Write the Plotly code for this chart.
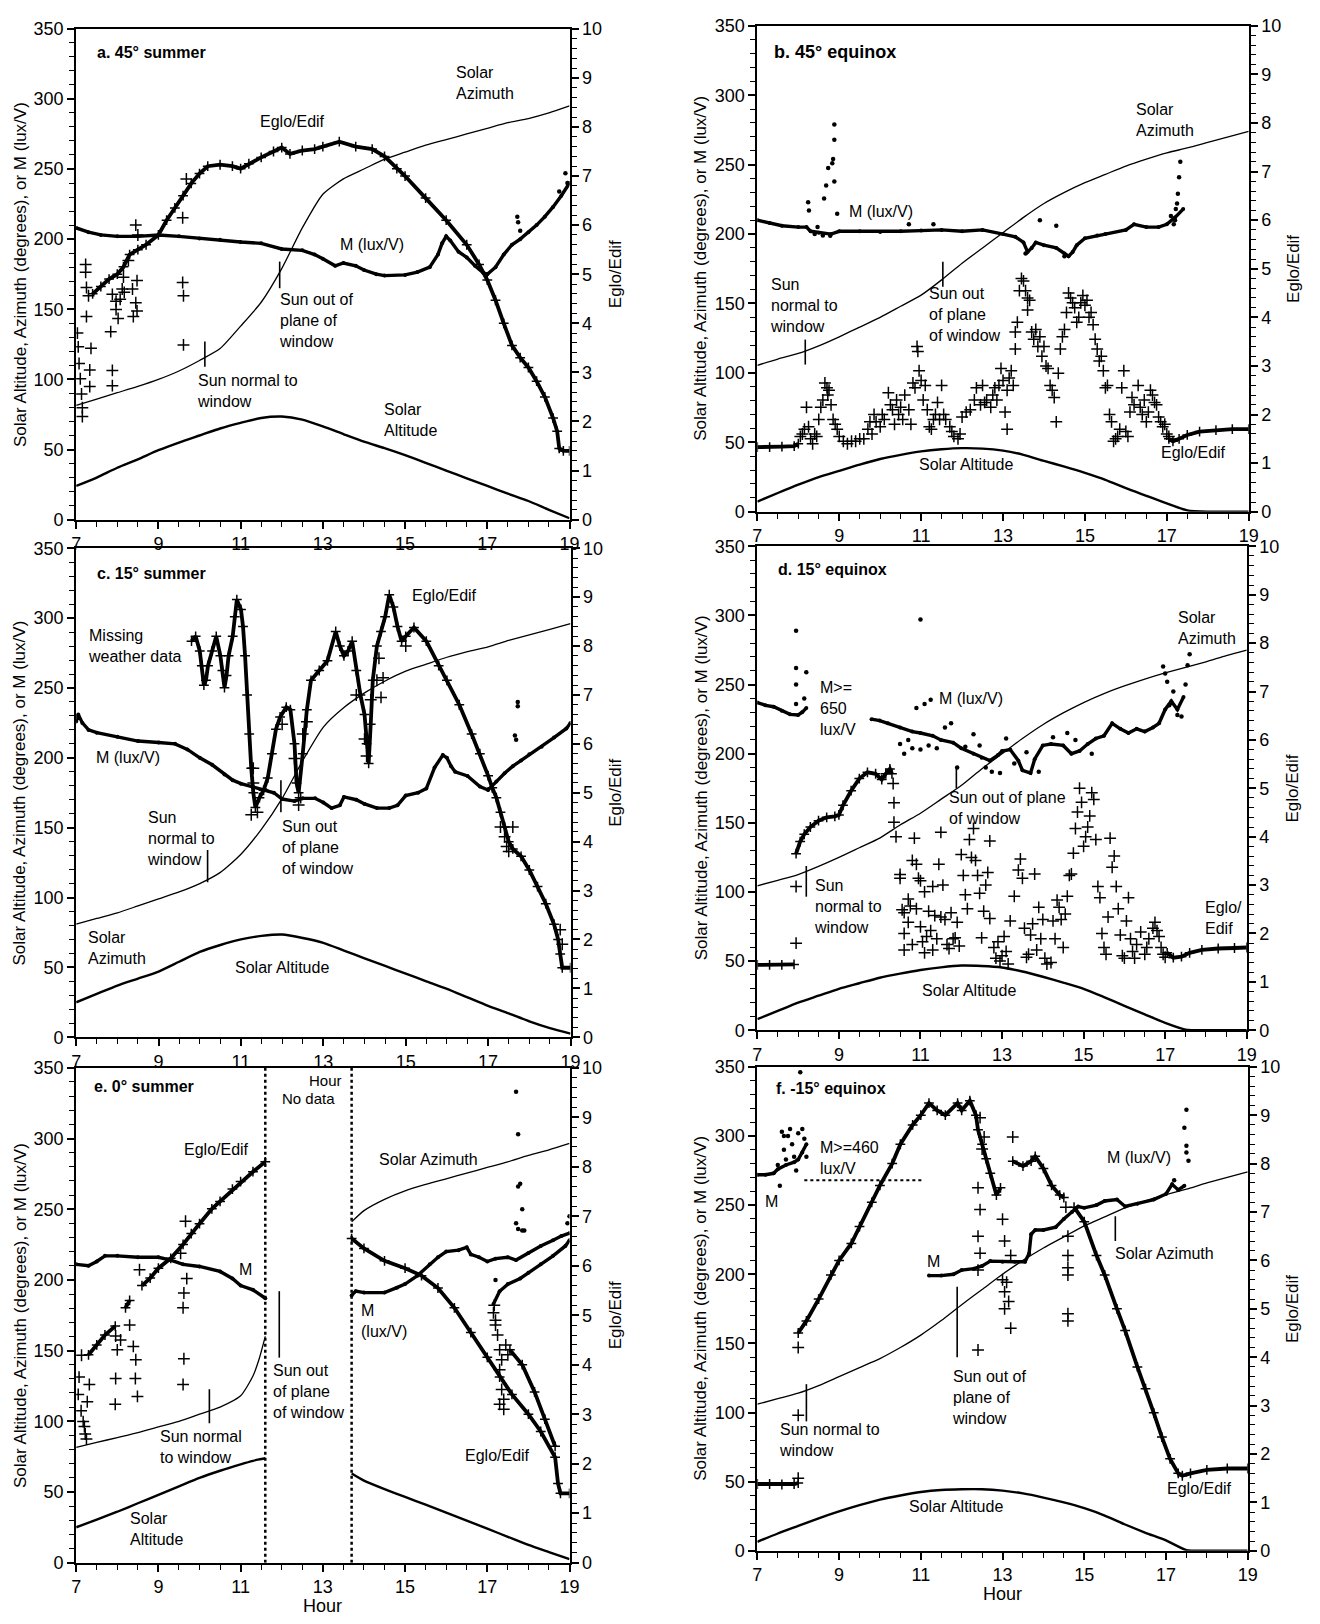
import plotly.graph_objects as go

# ---------------- DATA ----------------
SUN_HOURS = [7.0, 7.5, 8.0, 8.5, 9.0, 9.5, 10.0, 10.5, 11.0, 11.5, 12.0, 12.5, 13.0,
             13.5, 14.0, 14.5, 15.0, 15.5, 16.0, 16.5, 17.0, 17.5, 18.0, 18.5, 19.0]
X_TICKS = [7, 9, 11, 13, 15, 17, 19]

# ---- panel a: 45 deg summer ----
a_azimuth = [81.5, 86, 90.5, 95, 100, 106, 113.5, 122, 138, 155, 179, 208, 232,
             243, 250, 257, 262, 267, 271, 275, 279, 283, 286, 290, 295]
a_altitude = [24, 30, 37, 43, 49.5, 55, 60, 65, 69, 72.5, 73.5, 71.3, 66.5,
              61, 55.6, 51, 46, 40.5, 35, 29.5, 24, 18.5, 13.3, 7, 1]
a_m_line = [[(7.0, 208), (7.3, 205), (7.6, 203), (8.0, 202), (8.5, 202), (9.0, 203), (9.5, 202),
             (10.0, 200.5), (10.5, 199.5), (11.0, 198), (11.5, 197), (12.0, 193), (12.5, 192),
             (12.8, 189), (13.0, 186), (13.3, 181), (13.5, 183), (13.8, 181), (14.0, 178),
             (14.3, 175), (14.5, 174), (15.0, 174.5), (15.3, 176.5), (15.6, 180), (15.8, 189),
             (15.9, 197), (16.0, 202), (16.1, 199), (16.3, 191), (16.5, 187), (16.7, 181),
             (16.9, 176), (17.0, 175), (17.2, 180), (17.4, 189), (17.6, 196), (17.8, 200),
             (18.0, 205), (18.2, 210), (18.4, 216), (18.6, 223), (18.8, 231), (19.0, 240)]]
a_m_pts = [(17.73, 216), (17.75, 212), (17.8, 206), (18.9, 247), (18.95, 240), (18.75, 234)]
a_eglo_line = [[(7.4, 4.6), (7.6, 4.75), (7.8, 4.9), (8.0, 5.0), (8.15, 5.15), (8.3, 5.4), (8.5, 5.5),
                (8.7, 5.6), (9.0, 5.8), (9.2, 6.1), (9.4, 6.35), (9.6, 6.6), (9.8, 6.85), (10.0, 7.05),
                (10.2, 7.2), (10.5, 7.23), (10.8, 7.2), (11.0, 7.15), (11.2, 7.25), (11.5, 7.38),
                (11.8, 7.5), (12.0, 7.58), (12.2, 7.45), (12.5, 7.52), (12.8, 7.55), (13.0, 7.6),
                (13.4, 7.7), (13.8, 7.6), (14.2, 7.55), (14.5, 7.4), (14.8, 7.15), (15.0, 7.0),
                (15.5, 6.55), (16.0, 6.1), (16.5, 5.6), (16.8, 5.2), (17.0, 4.88), (17.2, 4.47),
                (17.4, 4.0), (17.6, 3.55), (17.8, 3.3), (18.0, 3.1), (18.2, 2.82), (18.4, 2.5),
                (18.6, 2.07), (18.7, 1.8), (18.75, 1.45), (18.85, 1.4), (19.0, 1.4)]]
a_eglo_pts = [(7.03, 3.8), (7.05, 3.52), (7.07, 3.18), (7.1, 2.87), (7.13, 2.56), (7.15, 2.28),
              (7.15, 2.1), (7.23, 5.2), (7.23, 5.04), (7.25, 4.73), (7.25, 4.14), (7.3, 4.56),
              (7.36, 3.49), (7.33, 3.05), (7.33, 2.71), (7.84, 3.83), (7.88, 4.59), (7.88, 3.04),
              (7.88, 2.73), (7.97, 4.45), (7.97, 4.28), (8.02, 4.1), (8.07, 4.49), (8.12, 4.7),
              (8.15, 4.94), (8.17, 4.63), (8.27, 5.28), (8.37, 4.7), (8.39, 4.14), (8.45, 4.42),
              (8.48, 4.25), (8.45, 6.0), (8.5, 5.8), (8.48, 4.87), (9.59, 4.83), (9.61, 4.56),
              (9.61, 3.56), (9.59, 6.15), (9.68, 6.94)]

# ---- panel b: 45 deg equinox ----
b_azimuth = [105.5, 110, 114, 119.5, 126, 133, 140, 148, 156, 167, 179, 190, 201,
             212, 222, 230, 237, 243, 249, 254, 258.5, 262, 266, 270, 274]
b_altitude = [7.3, 13.5, 19.5, 25, 29.5, 34, 38, 41, 43.5, 45, 45.8, 45.5, 44,
              41, 36.6, 32.5, 28, 23, 17, 11.5, 6, 1, 0, 0, 0]
b_m_line = [[(7.0, 210), (7.3, 208), (7.6, 206), (8.0, 205), (8.2, 205), (8.3, 202), (8.5, 201),
             (8.8, 200), (9.0, 202), (9.5, 202), (10.0, 201.5), (10.5, 202), (11.0, 202.5),
             (11.5, 203), (12.0, 202), (12.5, 203), (13.0, 200), (13.3, 198), (13.5, 194),
             (13.6, 187), (13.7, 190), (13.8, 194), (14.0, 192), (14.3, 190), (14.5, 186),
             (14.6, 184), (14.7, 187), (14.8, 192), (15.0, 197), (15.3, 199), (15.5, 200),
             (16.0, 203), (16.2, 207), (16.5, 205), (16.8, 205), (17.0, 207), (17.2, 212),
             (17.4, 218)]]
b_m_pts = [(8.24, 223), (8.26, 217), (8.63, 225.6), (8.68, 235), (8.73, 247.6), (8.83, 251),
           (8.85, 254), (8.88, 279), (8.88, 268), (8.88, 237.8), (8.95, 214.6), (8.47, 205),
           (8.6, 199), (8.78, 198.8), (8.4, 200), (17.17, 207), (17.22, 218), (17.25, 222),
           (17.27, 229), (17.3, 241), (17.33, 252), (17.2, 210), (17.1, 213), (13.9, 210),
           (14.3, 206), (10.7, 207), (11.3, 207), (13.55, 186), (14.5, 184)]
b_eglo_line = [[(7.0, 1.33), (7.3, 1.33), (7.6, 1.34), (7.9, 1.35), (8.0, 1.4)],
               [(17.05, 1.5), (17.15, 1.45), (17.3, 1.5), (17.5, 1.58), (17.8, 1.65),
                (18.2, 1.68), (18.6, 1.7), (19.0, 1.7)]]
b_eglo_pts = [(8.05, 1.55), (8.1, 1.6), (8.15, 1.7), (8.2, 2.15), (8.25, 1.75), (8.3, 1.5), (8.35, 1.4),
              (8.4, 1.6), (8.45, 1.55), (8.5, 1.9), (8.55, 2.15), (8.6, 2.3), (8.65, 2.65), (8.7, 2.55),
              (8.72, 2.4), (8.75, 2.5), (8.8, 2.2), (8.85, 1.9), (8.9, 1.8), (8.95, 1.7), (9.0, 1.55),
              (9.1, 1.45), (9.2, 1.4), (9.3, 1.45), (9.4, 1.45), (9.5, 1.5), (9.6, 1.5), (9.7, 1.7),
              (9.75, 1.85), (9.8, 1.6), (9.85, 2.0), (9.9, 1.85), (10.0, 1.75), (10.05, 2.0),
              (10.1, 1.9), (10.2, 2.45), (10.25, 2.2), (10.3, 2.1), (10.35, 1.8), (10.4, 2.3),
              (10.45, 2.0), (10.5, 2.15), (10.55, 1.9), (10.6, 2.4), (10.7, 2.1), (10.75, 1.8),
              (10.8, 2.65), (10.85, 2.55), (10.9, 3.4), (10.92, 3.3), (10.95, 2.9), (11.0, 2.7),
              (11.05, 2.3), (11.1, 2.6), (11.15, 2.1), (11.2, 1.75), (11.25, 1.7), (11.3, 1.9),
              (11.35, 2.0), (11.4, 2.25), (11.45, 1.9), (11.5, 2.6), (11.55, 2.0), (11.6, 1.9),
              (11.7, 1.75), (11.75, 1.65), (11.8, 1.55), (11.9, 1.5), (11.95, 1.6), (12.0, 1.95),
              (12.1, 2.05), (12.2, 2.1), (12.3, 2.3), (12.35, 2.55), (12.45, 2.2), (12.5, 2.6),
              (12.55, 2.25), (12.6, 2.3), (12.7, 2.15), (12.75, 2.4), (12.8, 2.55), (12.85, 2.3),
              (12.9, 2.6), (12.95, 2.95), (13.0, 2.7), (13.05, 2.05), (13.1, 1.7), (13.1, 2.5),
              (13.15, 2.75), (13.2, 2.9), (13.25, 2.6), (13.3, 3.35), (13.3, 3.7), (13.35, 3.9),
              (13.4, 4.55), (13.45, 4.8), (13.5, 4.75), (13.55, 4.55), (13.6, 4.4), (13.6, 4.15),
              (13.65, 4.35), (13.7, 3.7), (13.75, 3.55), (13.8, 3.75), (13.85, 3.4), (13.9, 3.6),
              (13.95, 3.2), (14.0, 3.4), (14.05, 3.0), (14.1, 2.95), (14.15, 2.6), (14.2, 2.5),
              (14.25, 2.35), (14.3, 1.85), (14.35, 2.85), (14.4, 3.35), (14.45, 3.6), (14.5, 3.75),
              (14.55, 4.1), (14.6, 4.5), (14.65, 4.4), (14.7, 4.3), (14.75, 4.2), (14.8, 3.9),
              (14.85, 4.0), (14.9, 4.3), (14.95, 4.45), (15.0, 4.25), (15.05, 4.35), (15.1, 4.0),
              (15.15, 4.1), (15.2, 3.85), (15.25, 3.55), (15.3, 3.35), (15.35, 3.1), (15.4, 3.2),
              (15.45, 2.9), (15.5, 2.55), (15.55, 2.6), (15.6, 2.0), (15.65, 1.85), (15.7, 1.45),
              (15.75, 1.5), (15.8, 1.55), (15.85, 1.7), (15.9, 2.55), (15.95, 2.9), (16.0, 1.65),
              (16.05, 1.55), (16.1, 2.05), (16.15, 2.35), (16.2, 2.2), (16.3, 2.6), (16.35, 2.15),
              (16.4, 2.0), (16.45, 2.3), (16.5, 1.85), (16.55, 2.05), (16.6, 2.5), (16.65, 2.4),
              (16.7, 2.25), (16.75, 2.2), (16.8, 1.95), (16.85, 1.85), (16.9, 1.75), (16.95, 1.8),
              (17.0, 1.6), (17.05, 1.55)]

# ---- panel c: 15 deg summer ----
c_azimuth = [81, 85, 89, 94, 99, 104, 110, 118, 131, 149, 171, 198, 222,
             236, 246.5, 255, 262, 267, 272, 276, 279.5, 284, 288, 292, 296]
c_altitude = [25, 31, 37, 42, 47, 54, 61, 66, 70, 72.5, 73.5, 71, 67.5,
              62, 56.5, 51, 45.5, 40, 34.6, 28.5, 22.4, 17, 11.4, 6.5, 2.5]
c_m_line = [[(7.0, 226), (7.05, 231), (7.15, 225), (7.3, 220), (7.5, 218), (8.0, 215), (8.5, 212),
             (9.0, 211), (9.4, 210), (9.7, 206), (10.0, 200), (10.3, 195), (10.6, 188), (10.8, 184),
             (11.0, 181.5), (11.3, 179), (11.6, 177), (11.8, 175), (12.0, 170.5), (12.3, 169),
             (12.5, 171), (12.8, 171), (13.0, 168), (13.2, 164), (13.4, 166), (13.5, 172),
             (13.8, 170), (14.0, 167), (14.3, 164), (14.6, 164), (14.8, 166), (15.0, 173),
             (15.3, 175), (15.5, 178), (15.7, 193), (15.9, 202), (16.0, 200), (16.1, 194),
             (16.2, 190), (16.5, 187), (16.8, 179.5), (17.0, 177), (17.2, 183), (17.4, 189),
             (17.6, 194), (17.8, 198), (18.0, 202.5), (18.3, 208), (18.6, 214.5), (18.9, 221),
             (19.0, 225)]]
c_m_pts = [(17.72, 240), (17.72, 237), (17.65, 216), (17.68, 213)]
c_eglo_line = [[(9.8, 8.1), (9.9, 8.2), (10.0, 7.9), (10.05, 7.6), (10.1, 7.2), (10.15, 7.3),
                (10.2, 7.6), (10.3, 7.9), (10.4, 8.2), (10.5, 7.8), (10.55, 7.5), (10.6, 7.15),
                (10.65, 7.4), (10.7, 7.8), (10.8, 8.2), (10.85, 8.6), (10.9, 8.95), (11.0, 8.75),
                (11.05, 8.4), (11.1, 7.8), (11.15, 7.0), (11.2, 6.2), (11.25, 5.5), (11.3, 5.0),
                (11.35, 4.7), (11.45, 4.9), (11.55, 5.05), (11.65, 5.3), (11.75, 5.8), (11.85, 6.3),
                (11.95, 6.55), (12.1, 6.75), (12.2, 6.7), (12.3, 6.0), (12.35, 5.2), (12.4, 5.0),
                (12.5, 5.8), (12.6, 6.7), (12.7, 7.3), (12.9, 7.5), (13.1, 7.7), (13.3, 8.3),
                (13.4, 8.0), (13.5, 7.8), (13.6, 7.9), (13.7, 8.1), (13.8, 7.5), (13.9, 7.0),
                (14.0, 6.6), (14.05, 6.0), (14.1, 5.6), (14.15, 6.4), (14.2, 7.3), (14.3, 8.0),
                (14.4, 8.3), (14.5, 8.6), (14.6, 9.05), (14.7, 8.8), (14.8, 8.4), (14.9, 8.1),
                (15.0, 8.2), (15.2, 8.38), (15.5, 8.1), (15.8, 7.6), (16.0, 7.3), (16.3, 6.8),
                (16.6, 6.2), (16.8, 5.8), (17.0, 5.35), (17.1, 5.1), (17.2, 4.9), (17.3, 4.6),
                (17.4, 4.3), (17.5, 4.0), (17.6, 3.85), (17.8, 3.7), (18.0, 3.42), (18.2, 3.08),
                (18.4, 2.73), (18.6, 2.31), (18.7, 2.0), (18.75, 1.7), (18.8, 1.42), (19.0, 1.42)]]
c_eglo_pts = [(11.3, 5.5), (11.3, 5.2), (11.25, 4.55), (11.4, 4.6), (12.4, 4.75), (12.45, 4.9),
              (12.3, 5.7), (12.5, 6.2), (12.6, 6.45), (14.15, 6.9), (14.3, 7.3), (14.35, 7.75),
              (14.0, 6.1), (14.05, 5.75), (13.8, 7.0), (12.0, 6.4), (15.0, 8.0), (17.3, 4.3),
              (17.4, 4.1), (17.5, 3.8), (17.6, 4.3), (17.45, 3.9), (18.75, 2.2), (18.8, 1.9),
              (14.4, 6.95), (14.45, 7.35)]

# ---- panel d: 15 deg equinox ----
d_azimuth = [104.5, 108.5, 112.6, 118.5, 125, 132, 139, 148.5, 157, 167, 177, 189, 200,
             211, 221, 229.5, 237, 243.5, 249, 254, 258.5, 262.5, 266.5, 271, 275]
d_altitude = [8, 14, 20, 25, 30, 34, 38, 41, 43.6, 45.5, 46.8, 46.5, 45.4,
              42.5, 38.7, 34.5, 30, 24, 17.7, 11.5, 5.4, 0.5, 0, 0, 0]
d_m_line = [[(7.0, 237), (7.2, 235), (7.4, 234), (7.6, 231), (7.8, 228.5), (8.0, 228), (8.1, 230),
             (8.2, 233)],
            [(9.8, 225), (10.0, 224), (10.2, 222), (10.5, 219), (10.8, 216), (11.0, 215),
             (11.3, 213), (11.5, 210), (11.8, 208), (12.0, 204), (12.3, 200), (12.5, 197),
             (12.7, 195), (12.9, 199), (13.0, 202), (13.2, 203), (13.4, 195), (13.5, 188),
             (13.7, 186), (13.8, 196), (14.0, 206), (14.2, 207), (14.5, 206), (14.7, 200),
             (14.9, 202), (15.1, 207), (15.3, 211), (15.5, 213), (15.7, 222), (15.9, 218),
             (16.1, 215), (16.3, 218), (16.5, 216), (16.7, 219), (16.85, 222), (17.0, 232),
             (17.15, 238), (17.3, 232), (17.45, 241)]]
d_m_pts = [(7.95, 289), (7.95, 262), (7.95, 250), (7.95, 236), (8.2, 259), (8.15, 240), (11.0, 297),
           (10.9, 233), (11.1, 236), (11.25, 239), (10.5, 207), (10.6, 200), (10.7, 210), (10.8, 204),
           (11.0, 203), (11.2, 206), (11.4, 204), (11.6, 219), (11.75, 222), (11.9, 190), (12.1, 205),
           (12.3, 214), (12.45, 206), (12.6, 190), (12.75, 187), (12.95, 186), (13.1, 211),
           (13.3, 193), (13.6, 201), (13.9, 187), (14.25, 212), (14.6, 215), (14.8, 210), (15.2, 200),
           (16.95, 263), (17.0, 258), (17.05, 252), (17.2, 245), (17.3, 228), (17.4, 227),
           (17.5, 250), (17.55, 264), (17.6, 272), (17.1, 235)]
d_eglo_line = [[(7.0, 1.35), (7.3, 1.35), (7.6, 1.35), (7.9, 1.36)],
               [(7.95, 3.65), (8.05, 3.9), (8.15, 4.05), (8.3, 4.2), (8.5, 4.33), (8.7, 4.4),
                (8.9, 4.42), (9.0, 4.45), (9.1, 4.65), (9.3, 4.95), (9.5, 5.2), (9.7, 5.33),
                (9.9, 5.3), (10.05, 5.18), (10.15, 5.3), (10.25, 5.4), (10.3, 5.3)],
               [(17.05, 1.6), (17.2, 1.5), (17.4, 1.52), (17.6, 1.6), (17.9, 1.66), (18.3, 1.69),
                (18.7, 1.7), (19.0, 1.71)]]
d_eglo_pts = [(7.95, 1.8), (7.95, 2.97), (10.33, 5.1), (10.35, 4.7), (10.35, 4.3), (10.4, 4.0),
              (10.5, 3.22), (10.5, 3.14), (10.55, 2.49), (10.6, 2.43), (10.6, 2.0), (10.6, 1.66),
              (10.7, 2.71), (10.7, 2.23), (10.75, 2.57), (10.8, 1.77), (10.8, 3.51), (10.85, 3.97),
              (10.9, 3.43), (10.9, 2.51), (10.95, 3.14), (11.0, 3.09), (11.0, 2.14), (11.05, 1.83),
              (11.1, 1.6), (11.1, 2.86), (11.15, 1.94), (11.2, 2.46), (11.25, 2.06), (11.3, 1.66),
              (11.3, 2.97), (11.35, 2.37), (11.4, 1.89), (11.45, 3.43), (11.5, 4.09), (11.5, 2.34),
              (11.55, 3.0), (11.6, 2.29), (11.65, 1.77), (11.7, 1.69), (11.75, 2.43), (11.8, 1.89),
              (11.85, 1.91), (11.9, 2.23), (11.95, 1.74), (12.0, 3.63), (12.05, 3.2), (12.1, 2.8),
              (12.15, 2.51), (12.2, 3.94), (12.25, 3.57), (12.3, 4.17), (12.35, 3.51), (12.4, 3.2),
              (12.45, 2.83), (12.5, 1.91), (12.55, 2.46), (12.6, 3.0), (12.65, 3.26), (12.7, 3.91),
              (12.7, 2.31), (12.8, 1.71), (12.85, 1.49), (12.9, 1.83), (12.95, 1.43), (13.0, 1.54),
              (13.05, 1.94), (13.1, 1.63), (13.15, 1.37), (13.2, 2.26), (13.3, 2.77), (13.4, 3.31),
              (13.45, 3.54), (13.5, 3.14), (13.55, 2.11), (13.6, 1.51), (13.65, 1.57), (13.7, 1.97),
              (13.75, 2.2), (13.8, 3.23), (13.85, 1.66), (13.9, 2.54), (13.95, 1.89), (14.0, 2.29),
              (14.05, 1.49), (14.1, 1.37), (14.2, 1.4), (14.25, 2.26), (14.3, 1.89), (14.35, 2.69),
              (14.4, 2.54), (14.45, 2.29), (14.5, 1.71), (14.55, 2.4), (14.6, 2.77), (14.65, 3.2),
              (14.7, 3.23), (14.75, 3.66), (14.8, 4.17), (14.85, 4.51), (14.9, 5.0), (14.95, 4.71),
              (15.0, 3.8), (15.05, 4.0), (15.1, 4.2), (15.15, 4.43), (15.2, 4.91), (15.25, 4.77),
              (15.3, 3.94), (15.35, 2.97), (15.4, 2.74), (15.45, 2.0), (15.5, 1.71), (15.55, 1.57),
              (15.6, 2.34), (15.65, 3.97), (15.7, 3.37), (15.75, 3.6), (15.8, 2.97), (15.85, 2.51),
              (15.9, 1.97), (15.95, 1.54), (16.0, 1.49), (16.05, 2.26), (16.1, 2.74), (16.15, 1.89),
              (16.2, 1.63), (16.25, 1.49), (16.3, 1.77), (16.4, 2.03), (16.5, 1.57), (16.55, 1.71),
              (16.6, 1.89), (16.7, 2.11), (16.75, 2.23), (16.8, 2.06), (16.85, 1.94), (16.9, 1.71),
              (16.95, 1.57), (17.0, 1.51)]

# ---- panel e: 0 deg summer (no data 11.6-13.7) ----
e_sun_am_hours = [7.0, 7.5, 8.0, 8.5, 9.0, 9.5, 10.0, 10.5, 11.0, 11.3, 11.45, 11.6]
e_azimuth_am = [81.5, 85, 88.5, 92, 96, 100, 105, 110, 118, 132, 144, 160]
e_altitude_am = [25, 30.5, 36, 42, 48, 54, 60, 65, 69.5, 72, 73, 73.8]
e_sun_pm_hours = [13.7, 14.0, 14.5, 15.0, 15.5, 16.0, 16.5, 17.0, 17.5, 18.0, 18.5, 19.0]
e_azimuth_pm = [241, 249, 257, 263, 267.5, 271.5, 275.5, 279.5, 283.5, 288, 292, 296.5]
e_altitude_pm = [63, 58, 52, 46.5, 41, 35.4, 29.8, 24, 18.3, 12.6, 7.5, 2.5]
e_m_line = [[(7.0, 211), (7.3, 210), (7.5, 213), (7.7, 217), (8.0, 217), (8.5, 216), (9.0, 216),
             (9.3, 214), (9.6, 211), (10.0, 209.5), (10.5, 206), (10.8, 201), (11.0, 196),
             (11.3, 193), (11.6, 187)],
            [(13.7, 189), (13.8, 192), (14.0, 191), (14.5, 191), (14.8, 194.5), (15.0, 197),
             (15.3, 203), (15.6, 211), (15.8, 216), (16.0, 220), (16.3, 221), (16.5, 223),
             (16.6, 218), (16.8, 216), (17.0, 213), (17.2, 215), (17.5, 216), (17.7, 214),
             (18.0, 219), (18.3, 224), (18.6, 228), (18.8, 231), (19.0, 233)],
            [(17.15, 183), (17.3, 192), (17.5, 197), (17.8, 201), (18.0, 205), (18.3, 211),
             (18.6, 217), (18.9, 224), (19.0, 228)]]
e_m_pts = [(17.7, 333), (17.75, 303), (17.75, 266), (17.8, 268), (17.85, 250), (17.7, 240),
           (17.75, 236), (17.85, 235), (17.9, 235), (19.0, 245), (18.95, 240), (17.2, 200)]
e_eglo_line = [[(7.3, 4.2), (7.5, 4.4), (7.7, 4.6), (7.95, 4.78)],
               [(8.2, 5.15), (8.3, 5.3)],
               [(8.6, 5.6), (8.8, 5.75), (9.0, 5.95), (9.3, 6.15), (9.6, 6.43), (9.8, 6.65),
                (10.0, 6.85), (10.3, 7.15), (10.5, 7.3), (10.8, 7.55), (11.0, 7.7), (11.3, 7.9),
                (11.6, 8.1)],
               [(13.7, 6.55), (14.0, 6.35), (14.5, 6.1), (15.0, 5.95), (15.4, 5.8), (15.8, 5.55),
                (16.2, 5.15), (16.6, 4.65), (17.0, 4.15), (17.3, 3.75), (17.6, 3.4), (18.0, 3.0),
                (18.3, 2.65), (18.65, 2.13), (18.72, 1.6), (18.78, 1.4), (19.0, 1.4)],
               [(17.55, 4.3), (17.85, 4.0), (18.15, 3.45), (18.4, 2.9), (18.65, 2.35)]]
e_eglo_pts = [(7.07, 3.75), (7.13, 4.19), (7.12, 3.07), (7.17, 2.85), (7.22, 2.6), (7.27, 3.25),
              (7.32, 3.6), (7.05, 3.4), (7.2, 2.75), (7.25, 2.5), (7.96, 4.58), (7.96, 3.72),
              (7.95, 3.2), (8.08, 4.5), (8.0, 4.3), (8.3, 4.8), (8.39, 4.37), (8.44, 3.72),
              (8.49, 3.36), (8.54, 5.92), (8.45, 4.1), (9.6, 5.15), (9.62, 5.45), (9.62, 4.12),
              (9.6, 3.6), (9.66, 6.9), (9.69, 5.74), (9.54, 6.25), (17.17, 5.2), (17.2, 4.9),
              (17.25, 4.6), (17.3, 4.3), (17.3, 3.9), (17.35, 3.5), (17.4, 3.3), (17.45, 4.4),
              (17.5, 4.2), (17.4, 3.1), (17.3, 3.2), (17.35, 4.1), (17.2, 4.8), (17.15, 5.05)]

# ---- panel f: -15 deg equinox ----
f_azimuth = [106, 110, 114, 119.5, 126, 132.5, 139, 147, 156, 166.5, 178, 189, 200,
             210, 219, 227, 235, 241.5, 248, 253, 257.5, 261.5, 266, 270, 274]
f_altitude = [6.5, 12.5, 18, 23.5, 28.5, 33, 37, 40, 42.5, 44, 44.5, 44.5, 43.5,
              41.5, 38.5, 35, 30.8, 25.5, 19, 13, 7.5, 0.5, 0, 0, 0]
f_m_line = [[(7.0, 272), (7.2, 272), (7.4, 273), (7.5, 276), (7.7, 279), (7.9, 281), (8.0, 283),
             (8.1, 288), (8.2, 294)],
            [(11.2, 199), (11.5, 199), (11.8, 200), (12.0, 203), (12.3, 204), (12.5, 206),
             (12.7, 209.5), (13.0, 209), (13.3, 209), (13.55, 209), (13.65, 215), (13.7, 229),
             (13.8, 232), (14.0, 232), (14.3, 234), (14.5, 240), (14.7, 245), (14.85, 249),
             (15.0, 248), (15.3, 250), (15.5, 253), (15.8, 254), (16.0, 249), (16.3, 251),
             (16.7, 254), (17.0, 258), (17.15, 265), (17.3, 261), (17.45, 264)]]
f_m_pts = [(7.55, 264), (7.6, 303), (7.65, 290), (7.65, 300), (7.75, 300), (7.8, 305), (7.85, 294),
           (7.9, 285), (8.0, 302), (8.1, 305), (8.15, 298), (7.95, 275), (8.05, 346), (7.7, 283),
           (7.5, 279), (17.45, 306), (17.5, 319), (17.5, 293), (17.55, 282), (17.5, 288),
           (17.2, 268), (8.2, 285)]
f_eglo_line = [[(7.0, 1.38), (7.3, 1.38), (7.6, 1.37), (7.9, 1.38), (8.0, 1.4)],
               [(8.0, 4.5), (8.2, 4.75), (8.5, 5.2), (8.8, 5.7), (9.0, 6.0), (9.3, 6.35), (9.5, 6.7),
                (9.8, 7.2), (10.0, 7.55), (10.3, 8.0), (10.5, 8.4), (10.8, 8.8), (11.0, 9.0),
                (11.2, 9.25), (11.4, 9.1), (11.6, 9.0), (11.9, 9.25), (12.0, 9.1), (12.2, 9.3),
                (12.35, 9.0), (12.4, 8.7), (12.5, 8.4), (12.6, 8.1), (12.7, 7.8), (12.85, 7.35),
                (12.95, 7.5)],
               [(13.25, 8.05), (13.5, 7.95), (13.7, 8.05), (13.8, 8.15), (14.0, 7.9), (14.2, 7.55),
                (14.4, 7.35), (14.5, 7.3)],
               [(14.75, 7.1), (15.0, 6.8), (15.3, 6.1), (15.5, 5.7), (15.8, 5.0), (16.0, 4.55),
                (16.3, 3.8), (16.5, 3.35), (16.7, 2.85), (16.9, 2.35), (17.1, 1.9), (17.3, 1.6),
                (17.4, 1.55), (17.6, 1.6), (18.0, 1.67), (18.5, 1.7), (19.0, 1.7)]]
f_eglo_pts = [(8.0, 4.2), (8.0, 2.8), (8.0, 1.5), (12.4, 7.5), (12.45, 7.05), (12.4, 6.5),
              (12.45, 6.15), (12.4, 5.8), (12.4, 4.15), (12.5, 8.3), (12.55, 8.55), (12.45, 8.95),
              (13.0, 6.85), (13.05, 6.4), (13.0, 5.6), (13.05, 5.35), (13.05, 5.0), (13.15, 5.15),
              (13.2, 4.6), (13.1, 5.55), (13.2, 6.1), (13.25, 8.55), (14.6, 6.5), (14.6, 6.1),
              (14.6, 5.85), (14.6, 5.7), (14.6, 4.9), (14.6, 4.75), (14.55, 7.1)]

# ---------------- LAYOUT / STYLE ----------------
W, H = 1320, 1624
FONT = "Liberation Sans, Arial, sans-serif"
# plot-area pixel boxes (left, right, top, bottom)
BOXES = {1: (72, 571, 19, 516), 2: (761, 1258, 16, 508), 3: (72, 572, 545, 1040),
         4: (761, 1256, 543, 1033), 5: (72, 571, 1071, 1572), 6: (761, 1257, 1070, 1560)}

# annotations per panel: (x, y, text, anchor, size, bold)
TEXTS = {
    1: [(7.45, 333, "a. 45° summer", "left", 16, True),
        (16.2, 311, "Solar<br>Azimuth", "left", 16, False),
        (12.25, 284, "Eglo/Edif", "center", 16, False),
        (14.2, 196, "M (lux/V)", "center", 16, False),
        (11.88, 142, "Sun out of<br>plane of<br>window", "left", 16, False),
        (9.9, 92, "Sun normal to<br>window", "left", 16, False),
        (14.45, 71, "Solar<br>Altitude", "left", 16, False)],
    2: [(7.35, 331, "b. 45° equinox", "left", 18, True),
        (16.2, 282, "Solar<br>Azimuth", "left", 16, False),
        (9.2, 216, "M (lux/V)", "left", 16, False),
        (7.25, 148.5, "Sun<br>normal to<br>window", "left", 16, False),
        (11.15, 142, "Sun out<br>of plane<br>of window", "left", 16, False),
        (17.65, 43, "Eglo/Edif", "center", 16, False),
        (12.1, 34, "Solar Altitude", "center", 16, False)],
    3: [(7.45, 332, "c. 15° summer", "left", 16, True),
        (15.1, 316, "Eglo/Edif", "left", 16, False),
        (7.25, 280, "Missing<br>weather data", "left", 16, False),
        (7.43, 200, "M (lux/V)", "left", 16, False),
        (8.68, 142, "Sun<br>normal to<br>window", "left", 16, False),
        (11.94, 136, "Sun out<br>of plane<br>of window", "left", 16, False),
        (7.25, 64, "Solar<br>Azimuth", "left", 16, False),
        (12.0, 50, "Solar Altitude", "center", 16, False)],
    4: [(7.45, 333, "d. 15° equinox", "left", 16, True),
        (17.27, 291, "Solar<br>Azimuth", "left", 16, False),
        (8.48, 233, "M>=<br>650<br>lux/V", "left", 16, False),
        (11.4, 240, "M (lux/V)", "left", 16, False),
        (11.65, 161, "Sun out of plane<br>of window", "left", 16, False),
        (8.33, 89.7, "Sun<br>normal to<br>window", "left", 16, False),
        (17.93, 81, "Eglo/<br>Edif", "left", 16, False),
        (12.2, 29, "Solar Altitude", "center", 16, False)],
    5: [(7.38, 337, "e. 0° summer", "left", 16, True),
        (13.06, 341, "Hour", "center", 15, False),
        (12.65, 328, "No data", "center", 15, False),
        (10.42, 292, "Eglo/Edif", "center", 16, False),
        (11.13, 207, "M", "center", 16, False),
        (11.74, 121, "Sun out<br>of plane<br>of window", "left", 16, False),
        (9.0, 82, "Sun normal<br>to window", "left", 16, False),
        (8.26, 24, "Solar<br>Altitude", "left", 16, False),
        (14.31, 285, "Solar Azimuth", "left", 16, False),
        (13.87, 171, "M<br>(lux/V)", "left", 16, False),
        (17.25, 76, "Eglo/Edif", "center", 16, False)],
    6: [(7.4, 334, "f. -15° equinox", "left", 16, True),
        (8.49, 284, "M>=460<br>lux/V", "left", 16, False),
        (7.34, 252.6, "M", "center", 16, False),
        (11.31, 209, "M", "center", 16, False),
        (16.35, 284.6, "M (lux/V)", "center", 16, False),
        (16.96, 215, "Solar Azimuth", "center", 16, False),
        (11.71, 110.5, "Sun out of<br>plane of<br>window", "left", 16, False),
        (7.49, 80, "Sun normal to<br>window", "left", 16, False),
        (17.82, 45, "Eglo/Edif", "center", 16, False),
        (11.87, 32, "Solar Altitude", "center", 16, False)],
}
# pointer ticks (x, y0, y1)
POINTERS = {1: [(11.95, 165, 184), (10.13, 109, 127)],
            2: [(8.17, 106, 124), (11.53, 162, 180)],
            3: [(10.19, 111, 134), (11.97, 161, 184)],
            4: [(11.88, 175, 190), (8.2, 96.6, 118.8)],
            5: [(11.94, 145, 192), (10.24, 98.6, 122.6)],
            6: [(15.76, 224, 242), (11.89, 140, 191), (8.2, 93.6, 120.5)]}


def segs_xy(segments):
    xs, ys = [], []
    for k, seg in enumerate(segments):
        if k:
            xs.append(None)
            ys.append(None)
        for h, v in seg:
            xs.append(h)
            ys.append(v)
    return xs, ys


def pts_xy(pts):
    return [p[0] for p in pts], [p[1] for p in pts]


fig = go.Figure()

sun_series = {
    1: [(SUN_HOURS, a_azimuth, a_altitude)],
    2: [(SUN_HOURS, b_azimuth, b_altitude)],
    3: [(SUN_HOURS, c_azimuth, c_altitude)],
    4: [(SUN_HOURS, d_azimuth, d_altitude)],
    5: [(e_sun_am_hours, e_azimuth_am, e_altitude_am), (e_sun_pm_hours, e_azimuth_pm, e_altitude_pm)],
    6: [(SUN_HOURS, f_azimuth, f_altitude)],
}
m_series = {1: (a_m_line, a_m_pts), 2: (b_m_line, b_m_pts), 3: (c_m_line, c_m_pts),
            4: (d_m_line, d_m_pts), 5: (e_m_line, e_m_pts), 6: (f_m_line, f_m_pts)}
eglo_series = {1: (a_eglo_line, a_eglo_pts), 2: (b_eglo_line, b_eglo_pts), 3: (c_eglo_line, c_eglo_pts),
               4: (d_eglo_line, d_eglo_pts), 5: (e_eglo_line, e_eglo_pts), 6: (f_eglo_line, f_eglo_pts)}

layout = dict(width=W, height=H, margin=dict(l=0, r=0, t=0, b=0), showlegend=False,
              paper_bgcolor="white", plot_bgcolor="white",
              font=dict(family=FONT, size=16, color="black"))
annotations = []
shapes = []

MINOR = dict(ticks="outside", ticklen=5, tickwidth=1.4, tickcolor="black")

for i in range(1, 7):
    L, R = 2 * i - 1, 2 * i
    xa, ya, yb = f"x{i}", f"y{L}", f"y{R}"
    left, right, top, bottom = BOXES[i]
    dom_x = [left / W, right / W]
    dom_y = [1 - bottom / H, 1 - top / H]

    # solar curves
    for hrs, az, alt in sun_series[i]:
        fig.add_trace(go.Scatter(x=hrs, y=az, mode="lines", xaxis=xa, yaxis=ya, hoverinfo="skip",
                                 line=dict(color="black", width=1.3, shape="spline", smoothing=0.6)))
        fig.add_trace(go.Scatter(x=hrs, y=alt, mode="lines", xaxis=xa, yaxis=ya, hoverinfo="skip",
                                 line=dict(color="black", width=2.4, shape="spline", smoothing=0.6)))
    # M
    m_line, m_pts = m_series[i]
    mx, my = segs_xy(m_line)
    fig.add_trace(go.Scatter(x=mx, y=my, mode="lines+markers", xaxis=xa, yaxis=ya,
                             line=dict(color="black", width=3.4),
                             marker=dict(symbol="circle", size=4, color="black")))
    px, py = pts_xy(m_pts)
    fig.add_trace(go.Scatter(x=px, y=py, mode="markers", xaxis=xa, yaxis=ya,
                             marker=dict(symbol="circle", size=4.5, color="black")))
    # Eglo/Edif (right axis)
    e_line, e_pts = eglo_series[i]
    ex, ey = segs_xy(e_line)
    fig.add_trace(go.Scatter(x=ex, y=ey, mode="lines+markers", xaxis=xa, yaxis=yb,
                             line=dict(color="black", width=3.8),
                             marker=dict(symbol="cross-thin", size=7, color="black",
                                         line=dict(width=1.5, color="black"))))
    qx, qy = pts_xy(e_pts)
    fig.add_trace(go.Scatter(x=qx, y=qy, mode="markers", xaxis=xa, yaxis=yb,
                             marker=dict(symbol="cross-thin", size=8.5, color="black",
                                         line=dict(width=1.5, color="black"))))

    suffix = "" if i == 1 else str(i)
    ysufL = "" if L == 1 else str(L)
    layout["xaxis" + suffix] = dict(
        domain=dom_x, anchor=ya, range=[7, 19], tickvals=X_TICKS, ticks="outside", ticklen=7,
        tickwidth=1.5, tickcolor="black", showline=True, linewidth=2, linecolor="black",
        mirror=True, showgrid=False, zeroline=False, tickfont=dict(size=18, family=FONT),
        minor=dict(dtick=0.5, tick0=7, **MINOR))
    layout["yaxis" + ysufL] = dict(
        domain=dom_y, anchor=xa, range=[0, 350], dtick=50, ticks="outside", ticklen=7,
        tickwidth=1.5, tickcolor="black", showline=True, linewidth=2, linecolor="black",
        showgrid=False, zeroline=False, tickfont=dict(size=18, family=FONT),
        minor=dict(dtick=10, tick0=0, **MINOR))
    layout["yaxis" + str(R)] = dict(
        overlaying=ya, side="right", anchor=xa, range=[0, 10], dtick=1, ticks="outside",
        ticklen=7, tickwidth=1.5, tickcolor="black", showline=True, linewidth=2,
        linecolor="black", showgrid=False, zeroline=False, tickfont=dict(size=18, family=FONT),
        minor=dict(dtick=0.2, tick0=0, **MINOR))

    # axis titles
    cy = 1 - (top + bottom) / 2 / H
    lx = (left - 57) / W
    rx = (right + 46) / W
    annotations.append(dict(x=lx, y=cy, xref="paper", yref="paper", showarrow=False,
                            text="Solar Altitude, Azimuth (degrees), or M (lux/V)", textangle=-90,
                            font=dict(size=17, family=FONT), xanchor="center", yanchor="middle"))
    annotations.append(dict(x=rx, y=cy, xref="paper", yref="paper", showarrow=False,
                            text="Eglo/Edif", textangle=-90,
                            font=dict(size=17, family=FONT), xanchor="center", yanchor="middle"))
    if i in (5, 6):
        annotations.append(dict(x=(left + right) / 2 / W, y=1 - (bottom + 44) / H, xref="paper",
                                yref="paper", showarrow=False, text="Hour",
                                font=dict(size=18, family=FONT), xanchor="center", yanchor="middle"))

    for (tx, ty, txt, anc, sz, bold) in TEXTS[i]:
        annotations.append(dict(x=tx, y=ty, xref=xa, yref=ya, showarrow=False,
                                text=f"<b>{txt}</b>" if bold else txt, align=anc,
                                xanchor=anc, yanchor="middle",
                                font=dict(size=sz, family=FONT)))
    for (tx, y0, y1) in POINTERS[i]:
        shapes.append(dict(type="line", xref=xa, yref=ya, x0=tx, x1=tx, y0=y0, y1=y1,
                           line=dict(color="black", width=1.6)))

# no-data boundaries in panel e, threshold line in panel f
for xv in (11.6, 13.7):
    shapes.append(dict(type="line", xref="x5", yref="y9", x0=xv, x1=xv, y0=0, y1=350,
                       line=dict(color="black", width=2.5, dash="dot")))
shapes.append(dict(type="line", xref="x6", yref="y11", x0=8.15, x1=11.05, y0=268, y1=268,
                   line=dict(color="black", width=2, dash="dot")))

layout["annotations"] = annotations
layout["shapes"] = shapes
fig.update_layout(**layout)
fig.write_html("out.html")
